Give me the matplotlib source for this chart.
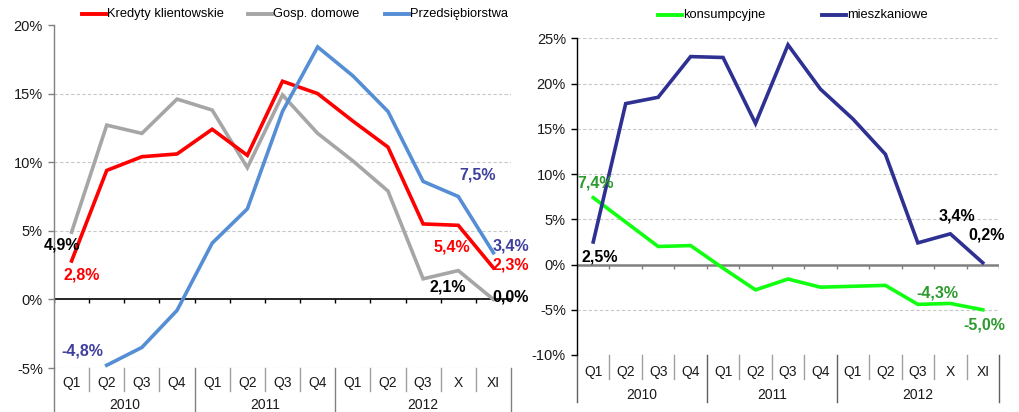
import matplotlib
matplotlib.use('Agg')
import matplotlib.pyplot as plt
import numpy as np
from matplotlib.lines import Line2D

plt.rcParams['font.family'] = ['Liberation Sans', 'DejaVu Sans']

# ---------------- data ----------------
categories = ['Q1', 'Q2', 'Q3', 'Q4', 'Q1', 'Q2', 'Q3', 'Q4', 'Q1', 'Q2', 'Q3', 'X', 'XI']
years = ['2010', '2011', '2012']
year_bounds = [0, 4, 8, 13]

kredyty = [2.8, 9.4, 10.4, 10.6, 12.4, 10.5, 15.9, 15.0, 13.0, 11.1, 5.5, 5.4, 2.3]
gosp_domowe = [4.9, 12.7, 12.1, 14.6, 13.8, 9.6, 14.9, 12.1, 10.1, 7.9, 1.5, 2.1, 0.0]
przedsiebiorstwa = [np.nan, -4.8, -3.5, -0.8, 4.1, 6.6, 13.7, 18.4, 16.3, 13.7, 8.6, 7.5, 3.4]

konsumpcyjne = [7.4, 4.7, 2.0, 2.1, -0.4, -2.8, -1.6, -2.5, -2.4, -2.3, -4.4, -4.3, -5.0]
mieszkaniowe = [2.5, 17.8, 18.5, 23.0, 22.9, 15.6, 24.3, 19.4, 16.1, 12.2, 2.4, 3.4, 0.2]

W, H = 1020, 412
fig = plt.figure(figsize=(W / 100, H / 100), dpi=100)
fig.patch.set_facecolor('white')

RED = '#ff0000'
GRAY = '#a6a6a6'
BLUE = '#558ed5'
NAVY = '#2e3192'
LIME = '#11ff11'
LBL_BLUE = '#3f3f9f'
LBL_GREEN = '#2e9a2e'
TICK_FS = 10.5
CAT_FS = 10
LBL_FS = 11.5
LEG_FS = 9.3


def px_axes(x0, y0, x1, y1):
    return fig.add_axes([x0 / W, 1 - y1 / H, (x1 - x0) / W, (y1 - y0) / H])


def style_axes(ax, ylo, yhi, grid_vals, spine_color, zero_color, zero_lw, tick_down_px, ppu):
    n = len(categories)
    ax.set_xlim(0, n)
    ax.set_ylim(ylo, yhi)
    for s in ['top', 'right', 'bottom']:
        ax.spines[s].set_visible(False)
    ax.spines['left'].set_color(spine_color)
    ax.spines['left'].set_linewidth(1.0)
    ax.set_xticks([])
    yt = np.arange(ylo, yhi + 0.1, 5)
    ax.set_yticks(yt)
    ax.set_yticklabels([f'{int(v)}%' for v in yt], fontsize=TICK_FS, color='#1a1a1a')
    ax.tick_params(axis='y', length=4, width=1, color=spine_color, pad=4)
    for g in grid_vals:
        ax.axhline(g, color='#c8c8c8', lw=0.8, ls=(0, (3, 2)), zorder=1)
    ax.axhline(0, color=zero_color, lw=zero_lw, zorder=2)
    # small ticks under zero line
    d = tick_down_px / ppu
    ax.vlines(np.arange(0, n + 1), -d, 0, color=zero_color, lw=1, zorder=2)


def category_axis(ax, ax_h_px, q_lab_px, yr_lab_px, q_sep_px, yr_sep_px, sep_color, yr_sep_color):
    tr = ax.get_xaxis_transform()
    n = len(categories)
    for i, c in enumerate(categories):
        ax.text(i + 0.5, -q_lab_px / ax_h_px, c, transform=tr, ha='center', va='center',
                fontsize=CAT_FS, color='#1a1a1a', clip_on=False)
    for i in range(1, n):
        if i in year_bounds:
            continue
        ax.add_line(Line2D([i, i], [0, -q_sep_px / ax_h_px], transform=tr, color=sep_color,
                           lw=1, clip_on=False))
    for b in year_bounds:
        ax.add_line(Line2D([b, b], [0, -yr_sep_px / ax_h_px], transform=tr, color=yr_sep_color,
                           lw=1, clip_on=False))
    for k, yname in enumerate(years):
        xc = (year_bounds[k] + year_bounds[k + 1]) / 2
        ax.text(xc, -yr_lab_px / ax_h_px, yname, transform=tr, ha='center', va='center',
                fontsize=CAT_FS, color='#1a1a1a', clip_on=False)


def label(ax, idx, val, text, color, dx_px, dy_px):
    ax.annotate(text, xy=(idx + 0.5, val), xytext=(dx_px / 1.389, dy_px / 1.389),
                textcoords='offset points', ha='center', va='center',
                fontsize=LBL_FS, fontweight='bold', color=color, zorder=6,
                annotation_clip=False)


x = np.arange(len(categories)) + 0.5

# ---------------- left chart ----------------
axL = px_axes(54, 25, 511, 368)
style_axes(axL, -5, 20, [-5, 5, 10, 15], '#808080', '#000000', 1.2, 4, 343 / 25)
category_axis(axL, 343, 15, 37, 23, 44, '#a0a0a0', '#808080')
axL.plot(x, gosp_domowe, color=GRAY, lw=2.6, zorder=3, solid_joinstyle='miter')
axL.plot(x, kredyty, color=RED, lw=2.6, zorder=4, solid_joinstyle='miter')
axL.plot(x, przedsiebiorstwa, color=BLUE, lw=2.6, zorder=5, solid_joinstyle='miter')

label(axL, 0, gosp_domowe[0], '4,9%', '#000000', -10, -13)
label(axL, 0, kredyty[0], '2,8%', RED, 10, -14)
label(axL, 1, przedsiebiorstwa[1], '-4,8%', LBL_BLUE, -24, 14)
label(axL, 11, przedsiebiorstwa[11], '7,5%', LBL_BLUE, 19, 22)
label(axL, 11, kredyty[11], '5,4%', RED, -6, -22)
label(axL, 12, przedsiebiorstwa[12], '3,4%', LBL_BLUE, 17, 7)
label(axL, 12, kredyty[12], '2,3%', RED, 17, 3)
label(axL, 11, gosp_domowe[11], '2,1%', '#000000', -11, -16)
label(axL, 12, gosp_domowe[12], '0,0%', '#000000', 17, 2)

# ---------------- right chart ----------------
axR = px_axes(577, 38.5, 999, 355)
style_axes(axR, -10, 25, [-10, -5, 5, 10, 15, 20, 25], '#000000', '#808080', 1.8, 4, 316.5 / 35)
axR.spines['left'].set_color('#000000')
category_axis(axR, 316.5, 17, 40, 24, 47, '#a0a0a0', '#606060')
axR.plot(x, konsumpcyjne, color=LIME, lw=2.6, zorder=3, solid_joinstyle='miter')
axR.plot(x, mieszkaniowe, color=NAVY, lw=2.6, zorder=4, solid_joinstyle='miter')

label(axR, 0, konsumpcyjne[0], '7,4%', LBL_GREEN, 2, 15)
label(axR, 0, mieszkaniowe[0], '2,5%', '#000000', 7, -15)
label(axR, 11, mieszkaniowe[11], '3,4%', '#000000', 7, 18)
label(axR, 12, mieszkaniowe[12], '0,2%', '#000000', 4, 28)
label(axR, 11, konsumpcyjne[11], '-4,3%', LBL_GREEN, -13, 10)
label(axR, 12, konsumpcyjne[12], '-5,0%', LBL_GREEN, 2, -15.5)

# ---------------- legends ----------------
def legend_item(x0, y, color, text):
    fig.add_artist(Line2D([x0 / W, (x0 + 24) / W], [1 - y / H, 1 - y / H], color=color, lw=2.8,
                          transform=fig.transFigure))
    fig.text((x0 + 25) / W, 1 - y / H, text, ha='left', va='center', fontsize=LEG_FS, color='#000000')


legend_item(82, 14, RED, 'Kredyty klientowskie')
legend_item(248, 14, GRAY, 'Gosp. domowe')
legend_item(385, 14, BLUE, 'Przedsiębiorstwa')
legend_item(658, 15, LIME, 'konsumpcyjne')
legend_item(822, 15, NAVY, 'mieszkaniowe')

fig.savefig('out.png', dpi=100, facecolor='white')
